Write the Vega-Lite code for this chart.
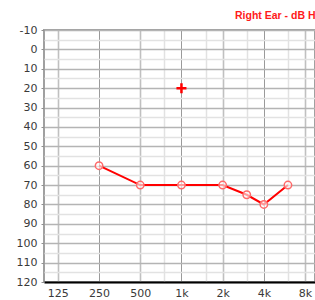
{
  "$schema": "https://vega.github.io/schema/vega-lite/v6.json",
  "autosize": {"type": "none"},
  "padding": {"left": 44, "top": 30, "right": 0, "bottom": 18},
  "width": 271,
  "height": 252,
  "background": "white",
  "config": {
    "view": {"stroke": "#a0a0a0", "strokeWidth": 2},
    "axis": {"labelFont": "DejaVu Sans", "labelFontSize": 11, "labelColor": "#3a3a3a", "title": null}
  },
  "title": {
    "text": "Right Ear - dB HL",
    "anchor": "start",
    "frame": "group",
    "dx": 191,
    "font": "Liberation Sans",
    "fontSize": 10.5,
    "fontWeight": "bold",
    "color": "#ff1a1a",
    "offset": 3
  },
  "datasets": {
    "ac": [
      {"freq": 250, "db": 60},
      {"freq": 500, "db": 70},
      {"freq": 1000, "db": 70},
      {"freq": 2000, "db": 70},
      {"freq": 3000, "db": 75},
      {"freq": 4000, "db": 80},
      {"freq": 6000, "db": 70}
    ],
    "other": [
      {"freq": 1000, "db": 20}
    ]
  },
  "resolve": {"axis": {"x": "independent", "y": "independent"}},
  "layer": [
    {
      "data": {"name": "ac"},
      "mark": {"type": "point", "opacity": 0},
      "encoding": {
        "x": {"field": "freq", "type": "quantitative",
          "scale": {"type": "log", "domain": [99, 9460], "nice": false},
          "axis": {"orient": "bottom", "values": [750, 1500, 3000, 6000], "labels": false, "ticks": false, "domain": false, "grid": true, "gridColor": "#e2e2e2", "gridWidth": 1.5}},
        "y": {"field": "db", "type": "quantitative",
          "scale": {"domain": [-10, 120], "reverse": true, "nice": false, "zero": false},
          "axis": {"orient": "left", "values": [-5, 5, 15, 25, 35, 45, 55, 65, 75, 85, 95, 105, 115], "labels": false, "ticks": false, "domain": false, "grid": true, "gridColor": "#e2e2e2", "gridWidth": 1.5}}
      }
    },
    {
      "data": {"name": "ac"},
      "mark": {"type": "line", "color": "#ff0000", "strokeWidth": 2},
      "encoding": {
        "x": {"field": "freq", "type": "quantitative",
          "axis": {"orient": "bottom", "values": [125, 250, 500, 1000, 2000, 4000, 8000],
            "labelExpr": "datum.value >= 1000 ? (datum.value / 1000) + 'k' : '' + datum.value",
            "ticks": false, "labelPadding": 5, "domain": true, "domainColor": "#000000", "domainWidth": 2,
            "grid": true,
            "gridColor": {"condition": {"test": "datum.value === 250 || datum.value === 1000 || datum.value === 4000", "value": "#9a9a9a"}, "value": "#c0c0c0"},
            "gridWidth": {"condition": {"test": "datum.value === 250 || datum.value === 1000 || datum.value === 4000", "value": 1}, "value": 1.6},
            "labelFlush": false, "labelOverlap": false}},
        "y": {"field": "db", "type": "quantitative",
          "axis": {"orient": "left", "values": [-10, 0, 10, 20, 30, 40, 50, 60, 70, 80, 90, 100, 110, 120],
            "labelExpr": "'' + datum.value",
            "ticks": true, "tickSize": 3, "tickColor": "#909090", "labelPadding": 4, "domain": false,
            "grid": true, "gridColor": "#b4b4b4", "gridWidth": 1.6, "labelOverlap": false, "labelFlush": false}}
      }
    },
    {
      "data": {"name": "ac"},
      "mark": {"type": "point", "shape": "circle", "size": 55, "filled": false, "fill": "white", "fillOpacity": 0.6, "stroke": "#ff6a6a", "strokeWidth": 1.5, "opacity": 1},
      "encoding": {
        "x": {"field": "freq", "type": "quantitative", "axis": null},
        "y": {"field": "db", "type": "quantitative", "axis": null}
      }
    },
    {
      "data": {"name": "other"},
      "mark": {"type": "point", "shape": "M-1,0H1M0,-1V1", "size": 100, "filled": false, "stroke": "#ff0000", "strokeWidth": 2.5, "opacity": 1},
      "encoding": {
        "x": {"field": "freq", "type": "quantitative", "axis": null},
        "y": {"field": "db", "type": "quantitative", "axis": null}
      }
    }
  ]
}
